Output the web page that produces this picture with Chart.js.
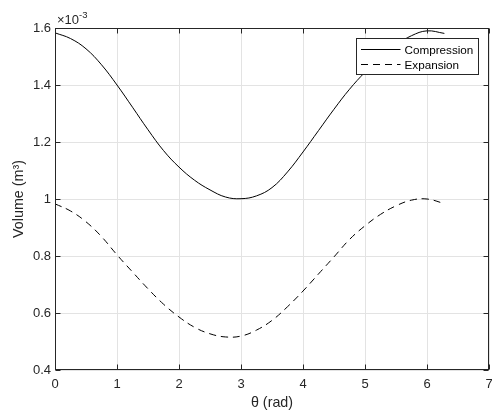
<!DOCTYPE html>
<html><head><meta charset="utf-8">
<script src="https://cdn.jsdelivr.net/npm/chart.js@4/dist/chart.umd.min.js"></script>
<style>html,body{margin:0;padding:0;background:#fff}</style>
</head><body>
<canvas id="c" width="492" height="415"></canvas>
<script>
// Crank angle (rad)
const theta = [0,0.25,0.5,0.75,1.0,1.25,1.5,1.75,2.0,2.25,2.5,2.75,3.0,3.25,3.5,3.75,4.0,4.25,4.5,4.75,5.0,5.25,5.5,5.75,6.0,6.28];
// Volumes in units of 1e-3 m^3
const compression = [1.583,1.563,1.527,1.471,1.400,1.322,1.243,1.170,1.112,1.066,1.032,1.007,1.001,1.011,1.040,1.095,1.165,1.240,1.315,1.385,1.445,1.497,1.540,1.573,1.590,1.581];
const expansion   = [0.983,0.958,0.920,0.868,0.804,0.744,0.685,0.631,0.586,0.550,0.527,0.516,0.519,0.540,0.574,0.622,0.677,0.737,0.797,0.858,0.906,0.946,0.976,0.996,1.000,0.984];
const seriesLabels = ['Compression','Expansion'];
const xTickValues = [0,1,2,3,4,5,6,7];
const yTickValues = [0.4,0.6,0.8,1.0,1.2,1.4,1.6];
const xTitle = 'θ (rad)';
const yTitle = 'Volume (m³)';
const exponentBase = '×10';
const exponentPower = '-3';

const FONT = '"Liberation Sans", Arial, Helvetica, sans-serif';
const INK = '#262626';

const framePlugin = {
  id: 'frame',
  afterDraw(chart) {
    const {ctx, chartArea: a, scales: {x, y}} = chart;
    ctx.save();
    ctx.strokeStyle = INK;
    ctx.lineWidth = 1;
    const L = Math.round(a.left) + 0.5, R = Math.round(a.right) - 0.5;
    const T = Math.round(a.top) + 0.5, B = Math.round(a.bottom) - 0.5;
    ctx.strokeRect(L, T, R - L, B - T);
    ctx.beginPath();
    x.ticks.forEach(t => {
      const px = Math.round(x.getPixelForValue(t.value)) + 0.5;
      ctx.moveTo(px, B); ctx.lineTo(px, B - 5);
      ctx.moveTo(px, T); ctx.lineTo(px, T + 5);
    });
    y.ticks.forEach(t => {
      const py = Math.round(y.getPixelForValue(t.value)) + 0.5;
      ctx.moveTo(L, py); ctx.lineTo(L + 5, py);
      ctx.moveTo(R, py); ctx.lineTo(R - 5, py);
    });
    ctx.stroke();

    // exponent label
    ctx.fillStyle = INK;
    ctx.textAlign = 'left';
    ctx.textBaseline = 'alphabetic';
    ctx.font = '13px ' + FONT;
    ctx.fillText(exponentBase, a.left + 2, a.top - 4);
    const w = ctx.measureText(exponentBase).width;
    ctx.font = '9.5px ' + FONT;
    ctx.fillText(exponentPower, a.left + 2 + w, a.top - 10);

    // legend
    const bx = Math.round(a.right) - 133 + 0.5, by = Math.round(a.top) + 10 + 0.5;
    const bw = 122, bh = 36;
    ctx.fillStyle = '#fff';
    ctx.fillRect(bx, by, bw, bh);
    ctx.strokeStyle = INK;
    ctx.strokeRect(bx, by, bw, bh);
    chart.data.datasets.forEach((ds, i) => {
      const ly = Math.round(by + 10 + i * 15.5) + 0.5;
      ctx.save();
      ctx.strokeStyle = ds.borderColor;
      ctx.lineWidth = ds.borderWidth;
      ctx.setLineDash(ds.borderDash || []);
      ctx.beginPath();
      ctx.moveTo(bx + 4.5, ly); ctx.lineTo(bx + 44, ly);
      ctx.stroke();
      ctx.restore();
      ctx.fillStyle = '#000';
      ctx.font = '11.7px ' + FONT;
      ctx.textBaseline = 'middle';
      ctx.fillText(ds.label, bx + 48, ly + 1);
    });
    ctx.restore();
  }
};

new Chart(document.getElementById('c'), {
  type: 'line',
  data: {
    datasets: [
      {label: seriesLabels[0], data: theta.map((t, i) => ({x: t, y: compression[i]})),
       borderColor: '#000', borderWidth: 1, pointRadius: 0, tension: 0.4, fill: false},
      {label: seriesLabels[1], data: theta.map((t, i) => ({x: t, y: expansion[i]})),
       borderColor: '#000', borderWidth: 1, pointRadius: 0, tension: 0.4, fill: false, borderDash: [7, 5]}
    ]
  },
  options: {
    responsive: false,
    animation: false,
    layout: {padding: {top: 28, right: 3, left: 0, bottom: 0}},
    plugins: {legend: {display: false}, tooltip: {enabled: false}},
    scales: {
      x: {
        type: 'linear', min: 0, max: 7,
        afterBuildTicks: s => { s.ticks = xTickValues.map(v => ({value: v})); },
        afterFit: s => { s.height = 45; s.paddingLeft = 0; s.paddingRight = 0; },
        grid: {color: '#e3e3e3', drawTicks: false},
        border: {display: false},
        ticks: {color: INK, font: {family: FONT, size: 13}, padding: 7, maxRotation: 0},
        title: {display: true, text: xTitle, color: INK, font: {family: FONT, size: 14.3}, padding: {top: 0, bottom: 3}}
      },
      y: {
        type: 'linear', min: 0.4, max: 1.6,
        afterBuildTicks: s => { s.ticks = yTickValues.map(v => ({value: v})); },
        afterFit: s => { s.width = 55; s.paddingTop = 0; s.paddingBottom = 0; },
        grid: {color: '#e3e3e3', drawTicks: false},
        border: {display: false},
        ticks: {color: INK, font: {family: FONT, size: 13}, padding: 4,
                callback: v => String(Math.round(v * 10) / 10)},
        title: {display: true, text: yTitle, color: INK, font: {family: FONT, size: 14.3}, padding: {top: 10, bottom: 0}}
      }
    }
  },
  plugins: [framePlugin]
});
</script>
</body></html>
